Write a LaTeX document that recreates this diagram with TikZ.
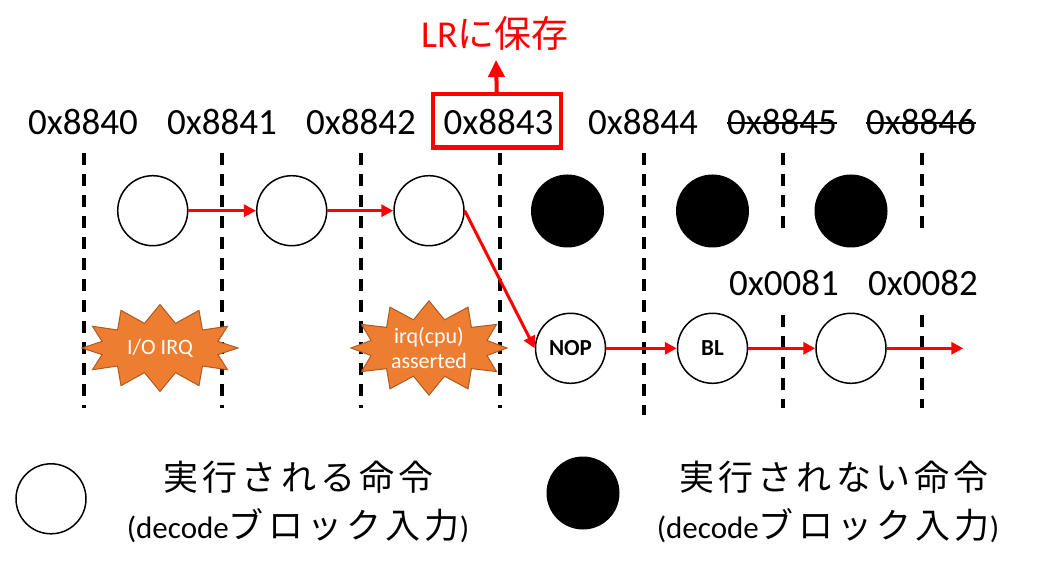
\documentclass[tikz,border=0pt]{standalone}
\usepackage{fontspec}
\setmainfont{Carlito}
\newfontfamily\jp{Noto Sans CJK JP}
\newfontfamily\jpls[LetterSpace=12]{Noto Sans CJK JP}
\usetikzlibrary{arrows.meta,shapes.symbols}
\definecolor{burstfill}{RGB}{237,125,49}
\definecolor{burstline}{RGB}{174,90,33}
\begin{document}
\begin{tikzpicture}[x=1pt,y=-1pt,
  addr/.style={inner sep=0pt,anchor=base,font=\fontsize{37}{40}\selectfont},
  wnode/.style={circle,draw=black,line width=1.5pt,fill=white,minimum size=70pt,inner sep=0pt,font=\fontsize{23}{24}\selectfont\bfseries},
  bnode/.style={circle,fill=black,minimum size=73pt,inner sep=0pt},
  dline/.style={line width=3.2pt,dash pattern=on 12pt off 9pt},
  rarrow/.style={draw=red,line width=3pt,-{Triangle[length=12pt,width=12pt]}},
  burst/.style={starburst,starburst points=12,starburst point height=18pt,random starburst=0,
    fill=burstfill,draw=burstline,line width=1pt,minimum width=156pt,minimum height=87pt,inner sep=0pt,
    text=white,align=center,font=\fontsize{22}{25}\selectfont},
  legtxt/.style={inner sep=0pt,anchor=base}
]
\useasboundingbox (0,0) rectangle (1046,569);

% address labels
\node[addr] (a0) at (83,135) {0x8840};
\node[addr] (a1) at (222,135) {0x8841};
\node[addr] (a2) at (361,135) {0x8842};
\node[addr] (a3) at (498.5,135) {0x8843};
\node[addr] (a4) at (643,135) {0x8844};
\node[addr] (a5) at (782,135) {0x8845};
\node[addr] (a6) at (921,135) {0x8846};
\draw[line width=2.5pt] (a5.base west) ++(0,-12) -- ([yshift=12pt]a5.base east);
\draw[line width=2.5pt] (a6.base west) ++(0,-12) -- ([yshift=12pt]a6.base east);
\node[addr] (b1) at (784,295) {0x0081};
\node[addr] (b2) at (923,295) {0x0082};

% red box and LR label
\node[draw=red,line width=4.5pt,minimum width=128pt,minimum height=53.5pt,inner sep=0pt] (box) at (496.75,121) {};
\node[inner sep=0pt,anchor=base,text=red,font=\fontsize{38}{40}\selectfont] (lr) at (495,48) {LR{\jp\fontsize{37}{40}\selectfont に保存}};
\coordinate (lrtip) at (496,60);
\draw[draw=red,line width=4pt,-{Triangle[length=17pt,width=16pt]}] (box.north) -- (lrtip);

% dashed lines
\foreach \x in {84,222,361,500} \draw[dline] (\x,153) -- (\x,408);
\draw[dline] (644,153) -- (644,415);
\foreach \x in {783,922} {
  \draw[dline] (\x,153) -- (\x,234);
  \draw[dline] (\x,315) -- (\x,408);
}

% bursts
\node[burst] (irq1) at (160,348) {I/O IRQ};
\node[burst] (irq2) at (429,348) {irq(cpu)\\asserted};

% top row
\node[wnode] (c1) at (152.7,210.7) {};
\node[wnode] (c2) at (291.7,210.7) {};
\node[wnode] (c3) at (429,210.7) {};
\node[bnode] (k1) at (567.5,211) {};
\node[bnode] (k2) at (712.5,211) {};
\node[bnode] (k3) at (851,211) {};

% bottom row
\node[wnode] (nop) at (570.5,348.3) {NOP};
\node[wnode] (bl) at (712.5,348.3) {BL};
\node[wnode] (c4) at (851,348.3) {};
\coordinate (endpt) at (963.3,348.3);

% arrows
\draw[rarrow] (c1) -- (c2);
\draw[rarrow] (c2) -- (c3);
\draw[rarrow] (c3.east) -- (nop.west);
\draw[rarrow] (nop) -- (bl);
\draw[rarrow] (bl) -- (c4);
\draw[rarrow] (c4) -- (endpt);

% legend
\node[circle,draw=black,line width=1.5pt,minimum size=70pt,inner sep=0pt] (lw) at (51,498.8) {};
\node[bnode] (lb) at (583,493) {};
\node[legtxt,font=\fontsize{35}{40}\selectfont] (l1a) at (298.5,490) {\jpls 実行される命令};
\node[legtxt,font=\fontsize{31}{40}\selectfont] (l1b) at (298,538) {(decode{\jpls\fontsize{35}{40}\selectfont ブロック入力})};
\node[legtxt,font=\fontsize{35}{40}\selectfont] (l2a) at (834,490) {\jpls 実行されない命令};
\node[legtxt,font=\fontsize{31}{40}\selectfont] (l2b) at (828,538) {(decode{\jpls\fontsize{35}{40}\selectfont ブロック入力})};
\end{tikzpicture}
\end{document}
